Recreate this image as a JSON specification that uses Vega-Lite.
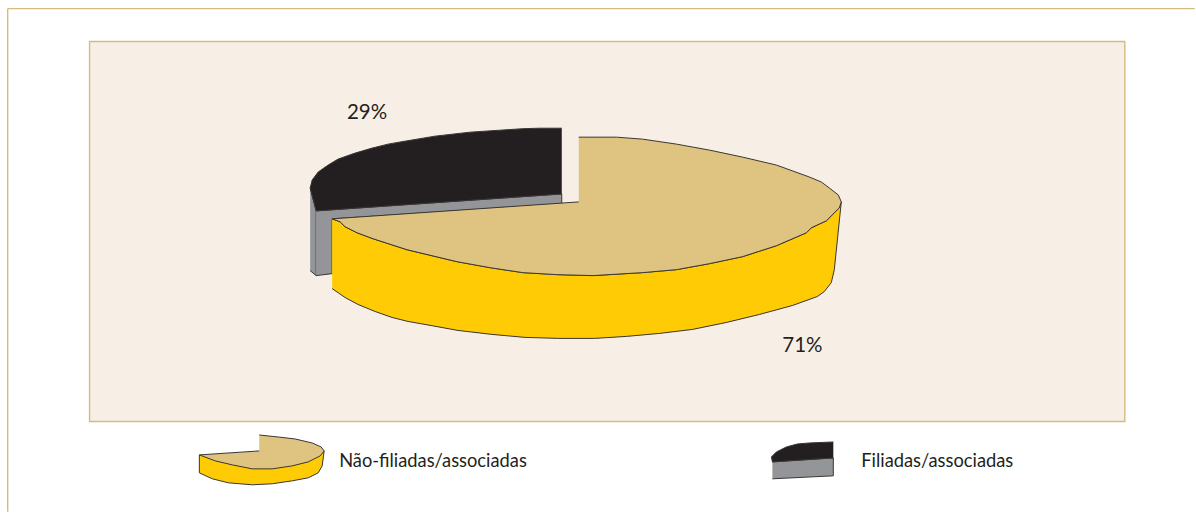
{
  "$schema": "https://vega.github.io/schema/vega-lite/v6.json",
  "width": 1196,
  "height": 513,
  "padding": 0,
  "autosize": {"type": "fit", "contains": "padding"},
  "background": "#ffffff",
  "view": {"stroke": null},
  "datasets": {
    "frame": [
      {"x": 7, "y": 8, "x2": 7, "y2": 513},
      {"x": 7, "y": 8, "x2": 1196, "y2": 8}
    ],
    "panel": [{"x": 89, "x2": 1126, "y": 41, "y2": 422.5}],
    "outlines": [
      {"part": "Filiadas lado", "i": 1, "x": 310, "y": 188},
      {"part": "Filiadas lado", "i": 2, "x": 316, "y": 211},
      {"part": "Filiadas lado", "i": 3, "x": 316, "y": 276},
      {"part": "Filiadas lado", "i": 4, "x": 310, "y": 271},

      {"part": "Filiadas corte", "i": 1, "x": 316, "y": 211},
      {"part": "Filiadas corte", "i": 2, "x": 562, "y": 194},
      {"part": "Filiadas corte", "i": 3, "x": 562, "y": 204},
      {"part": "Filiadas corte", "i": 4, "x": 332, "y": 219},
      {"part": "Filiadas corte", "i": 5, "x": 332, "y": 274},
      {"part": "Filiadas corte", "i": 6, "x": 316, "y": 276},

      {"part": "Filiadas topo", "i": 1, "x": 562, "y": 128},
      {"part": "Filiadas topo", "i": 2, "x": 540, "y": 128},
      {"part": "Filiadas topo", "i": 3, "x": 523, "y": 128.5},
      {"part": "Filiadas topo", "i": 4, "x": 500, "y": 130},
      {"part": "Filiadas topo", "i": 5, "x": 470, "y": 132},
      {"part": "Filiadas topo", "i": 6, "x": 435, "y": 136},
      {"part": "Filiadas topo", "i": 7, "x": 405, "y": 141},
      {"part": "Filiadas topo", "i": 8, "x": 388, "y": 144},
      {"part": "Filiadas topo", "i": 9, "x": 372, "y": 148},
      {"part": "Filiadas topo", "i": 10, "x": 355, "y": 153},
      {"part": "Filiadas topo", "i": 11, "x": 338, "y": 159},
      {"part": "Filiadas topo", "i": 12, "x": 328, "y": 165},
      {"part": "Filiadas topo", "i": 13, "x": 318, "y": 172},
      {"part": "Filiadas topo", "i": 14, "x": 312, "y": 180},
      {"part": "Filiadas topo", "i": 15, "x": 310, "y": 188},
      {"part": "Filiadas topo", "i": 16, "x": 316, "y": 211},
      {"part": "Filiadas topo", "i": 17, "x": 562, "y": 194},

      {"part": "Nao lateral", "i": 1, "x": 332, "y": 219},
      {"part": "Nao lateral", "i": 2, "x": 340, "y": 222},
      {"part": "Nao lateral", "i": 3, "x": 345, "y": 227},
      {"part": "Nao lateral", "i": 4, "x": 357, "y": 233},
      {"part": "Nao lateral", "i": 5, "x": 373, "y": 239},
      {"part": "Nao lateral", "i": 6, "x": 407, "y": 250},
      {"part": "Nao lateral", "i": 7, "x": 457, "y": 262},
      {"part": "Nao lateral", "i": 8, "x": 490, "y": 268},
      {"part": "Nao lateral", "i": 9, "x": 523, "y": 273},
      {"part": "Nao lateral", "i": 10, "x": 557, "y": 275},
      {"part": "Nao lateral", "i": 11, "x": 593, "y": 276},
      {"part": "Nao lateral", "i": 12, "x": 643, "y": 273},
      {"part": "Nao lateral", "i": 13, "x": 677, "y": 270},
      {"part": "Nao lateral", "i": 14, "x": 710, "y": 264},
      {"part": "Nao lateral", "i": 15, "x": 743, "y": 257},
      {"part": "Nao lateral", "i": 16, "x": 777, "y": 246},
      {"part": "Nao lateral", "i": 17, "x": 807, "y": 233},
      {"part": "Nao lateral", "i": 18, "x": 812, "y": 228},
      {"part": "Nao lateral", "i": 19, "x": 827, "y": 221},
      {"part": "Nao lateral", "i": 20, "x": 840, "y": 208},
      {"part": "Nao lateral", "i": 21, "x": 842, "y": 202},
      {"part": "Nao lateral", "i": 22, "x": 835, "y": 270},
      {"part": "Nao lateral", "i": 23, "x": 832, "y": 283},
      {"part": "Nao lateral", "i": 24, "x": 825, "y": 292},
      {"part": "Nao lateral", "i": 25, "x": 818, "y": 297},
      {"part": "Nao lateral", "i": 26, "x": 793, "y": 306},
      {"part": "Nao lateral", "i": 27, "x": 760, "y": 315},
      {"part": "Nao lateral", "i": 28, "x": 727, "y": 323},
      {"part": "Nao lateral", "i": 29, "x": 693, "y": 330},
      {"part": "Nao lateral", "i": 30, "x": 660, "y": 334},
      {"part": "Nao lateral", "i": 31, "x": 627, "y": 337},
      {"part": "Nao lateral", "i": 32, "x": 595, "y": 339},
      {"part": "Nao lateral", "i": 33, "x": 558, "y": 339},
      {"part": "Nao lateral", "i": 34, "x": 525, "y": 338},
      {"part": "Nao lateral", "i": 35, "x": 492, "y": 335},
      {"part": "Nao lateral", "i": 36, "x": 458, "y": 331},
      {"part": "Nao lateral", "i": 37, "x": 425, "y": 325},
      {"part": "Nao lateral", "i": 38, "x": 408, "y": 322},
      {"part": "Nao lateral", "i": 39, "x": 392, "y": 318},
      {"part": "Nao lateral", "i": 40, "x": 375, "y": 312},
      {"part": "Nao lateral", "i": 41, "x": 358, "y": 305},
      {"part": "Nao lateral", "i": 42, "x": 345, "y": 298},
      {"part": "Nao lateral", "i": 43, "x": 332, "y": 289},

      {"part": "Nao topo", "i": 1, "x": 579, "y": 137},
      {"part": "Nao topo", "i": 2, "x": 617, "y": 137},
      {"part": "Nao topo", "i": 3, "x": 643, "y": 139},
      {"part": "Nao topo", "i": 4, "x": 677, "y": 144},
      {"part": "Nao topo", "i": 5, "x": 710, "y": 150},
      {"part": "Nao topo", "i": 6, "x": 743, "y": 157},
      {"part": "Nao topo", "i": 7, "x": 777, "y": 165},
      {"part": "Nao topo", "i": 8, "x": 810, "y": 177},
      {"part": "Nao topo", "i": 9, "x": 822, "y": 182},
      {"part": "Nao topo", "i": 10, "x": 830, "y": 188},
      {"part": "Nao topo", "i": 11, "x": 839, "y": 195},
      {"part": "Nao topo", "i": 12, "x": 842, "y": 202},
      {"part": "Nao topo", "i": 13, "x": 840, "y": 208},
      {"part": "Nao topo", "i": 14, "x": 827, "y": 221},
      {"part": "Nao topo", "i": 15, "x": 812, "y": 228},
      {"part": "Nao topo", "i": 16, "x": 807, "y": 233},
      {"part": "Nao topo", "i": 17, "x": 777, "y": 246},
      {"part": "Nao topo", "i": 18, "x": 743, "y": 257},
      {"part": "Nao topo", "i": 19, "x": 710, "y": 264},
      {"part": "Nao topo", "i": 20, "x": 677, "y": 270},
      {"part": "Nao topo", "i": 21, "x": 643, "y": 273},
      {"part": "Nao topo", "i": 22, "x": 593, "y": 276},
      {"part": "Nao topo", "i": 23, "x": 557, "y": 275},
      {"part": "Nao topo", "i": 24, "x": 523, "y": 273},
      {"part": "Nao topo", "i": 25, "x": 490, "y": 268},
      {"part": "Nao topo", "i": 26, "x": 457, "y": 262},
      {"part": "Nao topo", "i": 27, "x": 407, "y": 250},
      {"part": "Nao topo", "i": 28, "x": 373, "y": 239},
      {"part": "Nao topo", "i": 29, "x": 357, "y": 233},
      {"part": "Nao topo", "i": 30, "x": 345, "y": 227},
      {"part": "Nao topo", "i": 31, "x": 340, "y": 222},
      {"part": "Nao topo", "i": 32, "x": 332, "y": 219},
      {"part": "Nao topo", "i": 33, "x": 579, "y": 202},

      {"part": "Legenda nao lateral", "i": 1, "x": 199, "y": 456},
      {"part": "Legenda nao lateral", "i": 2, "x": 199, "y": 474},
      {"part": "Legenda nao lateral", "i": 3, "x": 212, "y": 480},
      {"part": "Legenda nao lateral", "i": 4, "x": 228, "y": 484},
      {"part": "Legenda nao lateral", "i": 5, "x": 252, "y": 486},
      {"part": "Legenda nao lateral", "i": 6, "x": 272, "y": 485},
      {"part": "Legenda nao lateral", "i": 7, "x": 292, "y": 482},
      {"part": "Legenda nao lateral", "i": 8, "x": 308, "y": 479},
      {"part": "Legenda nao lateral", "i": 9, "x": 318, "y": 474},
      {"part": "Legenda nao lateral", "i": 10, "x": 322, "y": 467},
      {"part": "Legenda nao lateral", "i": 11, "x": 324, "y": 452},

      {"part": "Legenda nao topo", "i": 1, "x": 259, "y": 436},
      {"part": "Legenda nao topo", "i": 2, "x": 278, "y": 438},
      {"part": "Legenda nao topo", "i": 3, "x": 295, "y": 440},
      {"part": "Legenda nao topo", "i": 4, "x": 312, "y": 444},
      {"part": "Legenda nao topo", "i": 5, "x": 321, "y": 448},
      {"part": "Legenda nao topo", "i": 6, "x": 324, "y": 452},
      {"part": "Legenda nao topo", "i": 7, "x": 320, "y": 457},
      {"part": "Legenda nao topo", "i": 8, "x": 308, "y": 463},
      {"part": "Legenda nao topo", "i": 9, "x": 292, "y": 467},
      {"part": "Legenda nao topo", "i": 10, "x": 272, "y": 470},
      {"part": "Legenda nao topo", "i": 11, "x": 252, "y": 470},
      {"part": "Legenda nao topo", "i": 12, "x": 232, "y": 466},
      {"part": "Legenda nao topo", "i": 13, "x": 215, "y": 462},
      {"part": "Legenda nao topo", "i": 14, "x": 199, "y": 456},
      {"part": "Legenda nao topo", "i": 15, "x": 259, "y": 452},

      {"part": "Legenda filiadas corte", "i": 1, "x": 773, "y": 463},
      {"part": "Legenda filiadas corte", "i": 2, "x": 834, "y": 459},
      {"part": "Legenda filiadas corte", "i": 3, "x": 834, "y": 477},
      {"part": "Legenda filiadas corte", "i": 4, "x": 773, "y": 480},

      {"part": "Legenda filiadas topo", "i": 1, "x": 834, "y": 443},
      {"part": "Legenda filiadas topo", "i": 2, "x": 810, "y": 444},
      {"part": "Legenda filiadas topo", "i": 3, "x": 798, "y": 445},
      {"part": "Legenda filiadas topo", "i": 4, "x": 787, "y": 448},
      {"part": "Legenda filiadas topo", "i": 5, "x": 777, "y": 453},
      {"part": "Legenda filiadas topo", "i": 6, "x": 772, "y": 458},
      {"part": "Legenda filiadas topo", "i": 7, "x": 773, "y": 463},
      {"part": "Legenda filiadas topo", "i": 8, "x": 834, "y": 459}
    ],
    "shares": [
      {"grupo": "Filiadas/associadas", "share": 0.29, "x": 367, "y": 119},
      {"grupo": "Não-filiadas/associadas", "share": 0.71, "x": 803, "y": 353}
    ],
    "legend": [
      {"grupo": "Não-filiadas/associadas", "x": 339, "y": 468},
      {"grupo": "Filiadas/associadas", "x": 862, "y": 468}
    ]
  },
  "layer": [
    {
      "data": {"name": "frame"},
      "mark": {"type": "rule", "color": "#d6ba80", "strokeWidth": 1.4},
      "encoding": {
        "x": {"field": "x", "type": "quantitative", "scale": {"domain": [-0.7, 1195.3], "nice": false, "zero": false}, "axis": null},
        "y": {"field": "y", "type": "quantitative", "scale": {"domain": [512.3, -0.7], "nice": false, "zero": false}, "axis": null},
        "x2": {"field": "x2"},
        "y2": {"field": "y2"}
      }
    },
    {
      "data": {"name": "panel"},
      "mark": {"type": "rect", "fill": "#f7efe6", "stroke": "#d6ba80", "strokeWidth": 1.4},
      "encoding": {
        "x": {"field": "x", "type": "quantitative"},
        "x2": {"field": "x2"},
        "y": {"field": "y", "type": "quantitative"},
        "y2": {"field": "y2"}
      }
    },
    {
      "data": {"name": "outlines"},
      "mark": {"type": "line", "strokeWidth": 1, "strokeJoin": "round", "stroke": "#3a3633", "clip": false},
      "encoding": {
        "x": {"field": "x", "type": "quantitative"},
        "y": {"field": "y", "type": "quantitative"},
        "order": {"field": "i", "type": "quantitative"},
        "detail": {"field": "part", "type": "nominal"},
        "fill": {
          "field": "part",
          "type": "nominal",
          "legend": null,
          "sort": null,
          "scale": {
            "domain": ["Filiadas lado", "Filiadas corte", "Filiadas topo", "Nao lateral", "Nao topo", "Legenda nao lateral", "Legenda nao topo", "Legenda filiadas corte", "Legenda filiadas topo"],
            "range": ["#939598", "#939598", "#231f20", "#ffcb05", "#dec381", "#ffcb05", "#dec381", "#939598", "#231f20"]
          }
        }
      }
    },
    {
      "data": {"name": "shares"},
      "mark": {"type": "text", "font": "Lato", "fontSize": 20.5, "color": "#231f20", "align": "center", "baseline": "alphabetic"},
      "encoding": {
        "x": {"field": "x", "type": "quantitative"},
        "y": {"field": "y", "type": "quantitative"},
        "text": {"field": "share", "type": "quantitative", "format": ".0%"}
      }
    },
    {
      "data": {"name": "legend"},
      "mark": {"type": "text", "font": "Lato", "fontSize": 18.3, "color": "#231f20", "align": "left", "baseline": "alphabetic"},
      "encoding": {
        "x": {"field": "x", "type": "quantitative"},
        "y": {"field": "y", "type": "quantitative"},
        "text": {"field": "grupo", "type": "nominal"}
      }
    }
  ]
}
